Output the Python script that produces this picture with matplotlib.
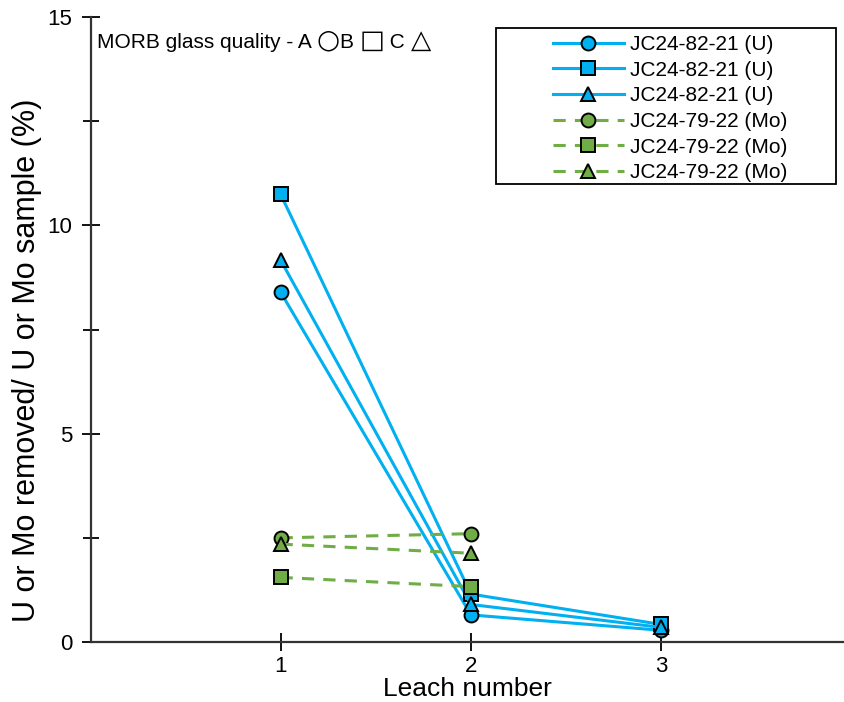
import matplotlib
matplotlib.use('Agg')
import matplotlib.pyplot as plt
import matplotlib.transforms as mtransforms
from matplotlib.patches import Rectangle
from matplotlib.ticker import MultipleLocator

plt.rcParams['font.family'] = ['Liberation Sans', 'DejaVu Sans']

leach = [1, 2, 3]
leach_mo = [1, 2]

# U leached fraction (%), sample JC24-82-21, by glass quality A/B/C
u_a = [8.40, 0.65, 0.28]
u_b = [10.75, 1.15, 0.42]
u_c = [9.17, 0.90, 0.35]

# Mo leached fraction (%), sample JC24-79-22
mo_a = [2.50, 2.60]
mo_b = [1.55, 1.33]
mo_c = [2.35, 2.13]

u_label = 'JC24-82-21 (U)'
mo_label = 'JC24-79-22 (Mo)'
blue = '#00B0F0'
green = '#70AD47'

# quality key: plain text pieces and the marker symbols between them
key_parts = [('MORB glass quality - A ', 'text'), ('\u25cb', 'sym'), ('B ', 'text'),
             ('\u25a1', 'sym'), (' C ', 'text'), ('\u25b3', 'sym')]

fig = plt.figure(figsize=(8.44, 7.02), dpi=100)
ax = fig.add_axes([0.108, 0.0855, 0.891, 0.89])

mk = dict(markersize=10, markeredgecolor='black', markeredgewidth=1.4)
ax.plot(leach, u_a, '-', color=blue, lw=2.2, marker='o', label=u_label, **mk)
ax.plot(leach, u_b, '-', color=blue, lw=2.2, marker='s', label=u_label, **mk)
ax.plot(leach, u_c, '-', color=blue, lw=2.2, marker='^', label=u_label, **mk)
ax.plot(leach_mo, mo_a, '--', color=green, lw=2.2, marker='o', label=mo_label, dashes=(4, 3), **mk)
ax.plot(leach_mo, mo_b, '--', color=green, lw=2.2, marker='s', label=mo_label, dashes=(4, 3), **mk)
ax.plot(leach_mo, mo_c, '--', color=green, lw=2.2, marker='^', label=mo_label, dashes=(4, 3), **mk)

ax.set_xlim(0.005, 3.955)
ax.set_ylim(0, 15)
ax.set_xticks([1, 2, 3])
ax.yaxis.set_major_locator(MultipleLocator(5))
ax.yaxis.set_minor_locator(MultipleLocator(2.5))
ax.tick_params(axis='both', which='both', direction='inout', labelsize=16, width=1.3)
ax.tick_params(axis='both', which='major', length=13)
ax.tick_params(axis='y', which='minor', length=11)
ax.tick_params(axis='y', which='major', pad=7)
for side in ('top', 'right'):
    ax.spines[side].set_visible(False)
for side in ('left', 'bottom'):
    ax.spines[side].set_linewidth(1.6)
    ax.spines[side].set_color('#333333')

ax.set_xlabel('Leach number', fontsize=19, labelpad=0)
ax.set_ylabel('U or Mo removed/ U or Mo sample (%)', fontsize=22)
ax.yaxis.set_label_coords(-0.066, 0.451)

# write the key piece by piece so the symbols can be larger than the text
fig.canvas.draw()
renderer = fig.canvas.get_renderer()
dx = 0.0
for s, kind in key_parts:
    if kind == 'sym':
        kw = dict(fontsize=19, family='DejaVu Sans')
    else:
        kw = dict(fontsize=15)
    tr = mtransforms.offset_copy(ax.transAxes, fig=fig, x=dx, y=0, units='dots')
    t = ax.text(0.008, 0.951, s, transform=tr, va='baseline', ha='left', **kw)
    dx += t.get_window_extent(renderer).width

leg = ax.legend(loc='upper right', bbox_to_anchor=(0.945, 0.995), fontsize=15,
                frameon=False, handlelength=3.4, handletextpad=0.3,
                labelspacing=0.32, borderpad=0.2)

# legend frame drawn separately, with wide side margins
ax.add_patch(Rectangle((0.538, 0.7328), 0.453, 0.2496, transform=ax.transAxes,
                       fill=False, edgecolor='black', lw=1.3, clip_on=False))

fig.savefig('out.png', dpi=100)
